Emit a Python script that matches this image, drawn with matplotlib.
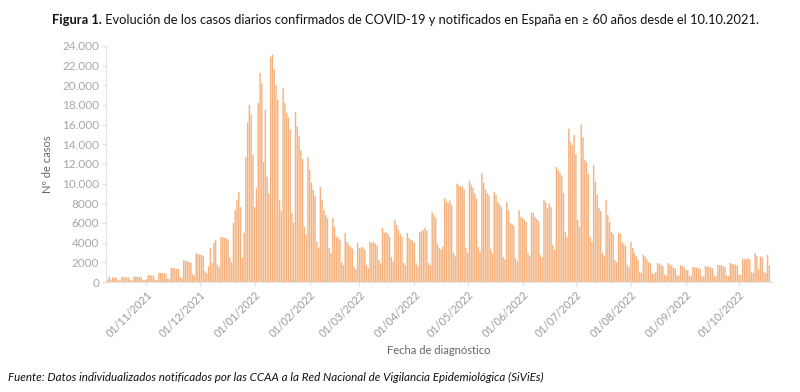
import pandas as pd
import matplotlib
matplotlib.use("Agg")
import matplotlib.pyplot as plt
import matplotlib.dates as mdates
from matplotlib.ticker import FuncFormatter

plt.rcParams['font.family'] = ['Lato', 'DejaVu Sans']

fecha_inicio = "2021-10-10"

# casos diarios en >= 60 años; primer valor = domingo 10/10, luego una fila por semana (lun..dom)
casos = [
    200,
    550, 250, 480, 450, 430, 200, 150,
    520, 500, 480, 470, 450, 200, 160,
    560, 540, 520, 500, 480, 210, 170,
    300, 700, 680, 660, 640, 260, 200,
    950, 930, 900, 880, 850, 350, 280,
    1450, 1420, 1380, 1350, 1300, 520, 420,
    2200, 2150, 2100, 2050, 1950, 780, 650,
    2900, 2850, 2800, 2750, 2650, 1100, 900,
    1600, 3450, 1900, 4000, 4270, 1800, 1500,
    4600, 4550, 4500, 4400, 4300, 2500, 2000,
    6000, 7300, 8300, 9150, 7600, 2500, 5000,
    12700, 16200, 18000, 17000, 12900, 7600, 9500,
    18200, 21250, 20200, 12200, 17500, 10700, 9000,
    22900, 23100, 21600, 20000, 18500, 8300, 7200,
    19700, 18200, 17200, 16700, 15500, 7000, 6000,
    17300, 15800, 14800, 13400, 12500, 5600, 4800,
    12700, 11400, 10100, 9350, 8800, 4070, 3500,
    9660, 8340, 7300, 6800, 6500, 3460, 2900,
    6500, 5600, 4600, 4500, 4300, 2000, 1700,
    5000, 4070, 3800, 3560, 3400, 1530, 1300,
    3970, 3460, 3500, 3560, 3300, 1730, 1400,
    4070, 4000, 4050, 3900, 3700, 2240, 1900,
    5500, 5000, 5100, 4900, 4600, 2540, 2100,
    6300, 5800, 5300, 4900, 4600, 1930, 1700,
    5000, 4480, 4270, 4200, 4000, 1900, 1600,
    5100, 5150, 5300, 5500, 5200, 1930, 1700,
    7100, 6800, 6500, 3900, 3500, 3300, 3600,
    8540, 8200, 8000, 8300, 7800, 2950, 2600,
    10000, 9800, 9700, 9750, 9400, 3460, 3000,
    10300, 9900, 9600, 9000, 8500, 3560, 3100,
    11100, 10100, 9400, 9050, 8800, 3400, 2900,
    9150, 8850, 8140, 7900, 7600, 2540, 2300,
    8140, 7300, 6000, 5900, 5700, 2400, 2100,
    7300, 6600, 6500, 6300, 6100, 2950, 2600,
    7100, 7000, 6600, 6400, 6200, 2750, 2500,
    8340, 8100, 7500, 8000, 7600, 3760, 3300,
    11700, 11400, 11100, 10800, 9050, 5100, 4600,
    15600, 14200, 13900, 14950, 13000, 6300, 5600,
    16000, 14700, 12400, 12200, 11000, 4600, 4100,
    11900, 10200, 8850, 7500, 7200, 2950, 2600,
    8340, 6800, 6100, 5100, 4900, 2240, 2000,
    5000, 4900, 4070, 3900, 3700, 1730, 1500,
    4070, 3460, 2950, 2600, 2240, 1020, 900,
    2750, 2600, 2300, 2000, 1900, 900, 800,
    1000, 1930, 1850, 1750, 1600, 750, 650,
    1930, 1800, 1700, 1420, 1400, 700, 620,
    1730, 1600, 1500, 1220, 1200, 650, 600,
    1530, 1500, 1450, 1400, 1300, 600, 550,
    1630, 1600, 1550, 1450, 1400, 620, 560,
    1730, 1700, 1700, 1600, 1500, 680, 600,
    1930, 1850, 1800, 1750, 1650, 760, 680,
    2340, 2300, 2340, 2400, 2300, 1000, 900,
    2950, 2650, 1300, 2600, 2500, 1000, 900,
    2750, 1700,
]

ticks_x = ["2021-11-01", "2021-12-01", "2022-01-01", "2022-02-01", "2022-03-01",
           "2022-04-01", "2022-05-01", "2022-06-01", "2022-07-01", "2022-08-01",
           "2022-09-01", "2022-10-01"]
ticks_y = list(range(0, 24001, 2000))

titulo_b = "Figura 1."
titulo = " Evolución de los casos diarios confirmados de COVID-19 y notificados en España en ≥ 60 años desde el 10.10.2021."
fuente = "Fuente: Datos individualizados notificados por las CCAA a la Red Nacional de Vigilancia Epidemiológica (SiViEs)"

fechas = pd.date_range(fecha_inicio, periods=len(casos), freq="D")


def fmt_miles(v, pos):
    v = int(round(v))
    if v >= 10000:
        return f"{v:,}".replace(",", ".")
    return str(v)


fig = plt.figure(figsize=(8, 3.92), dpi=100)
ax = fig.add_axes([0.1325, 0.2806, 0.8325, 0.6024])
ax.bar(fechas, casos, width=0.8, color="#F5B27E", linewidth=0, snap=False)

x0 = mdates.date2num(fechas[0])
ax.set_xlim(x0 - 0.8, x0 + 374.5)
ax.set_ylim(0, 24000)
ax.set_yticks(ticks_y)
ax.yaxis.set_major_formatter(FuncFormatter(fmt_miles))
ax.set_xticks([mdates.date2num(pd.Timestamp(t)) for t in ticks_x])
ax.xaxis.set_major_formatter(mdates.DateFormatter("%d/%m/%Y"))

for s in ["top", "right"]:
    ax.spines[s].set_visible(False)
for s in ["left", "bottom"]:
    ax.spines[s].set_color("#e3e3e3")
    ax.spines[s].set_linewidth(0.8)

ax.tick_params(axis="y", colors="#e0e0e0", labelcolor="#a8a8a8", labelsize=8.5, length=3, pad=2)
ax.tick_params(axis="x", colors="#e0e0e0", labelcolor="#9a9a9a", labelsize=7.8, length=3, pad=2)
for lab in ax.get_xticklabels():
    lab.set_rotation(45)
    lab.set_ha("right")
    lab.set_rotation_mode("anchor")

ax.set_ylabel("Nº de casos", fontsize=8, color="#666666")
ax.yaxis.set_label_coords(-0.08, 0.5)
ax.set_xlabel("Fecha de diagnóstico", fontsize=8, color="#666666")
ax.xaxis.set_label_coords(0.5, -0.265)

# título: parte en negrita y resto seguido
r = fig.canvas.get_renderer()
tb = fig.text(52 / 800, 1 - 20 / 392, titulo_b, fontsize=9.25, fontweight="bold", va="center", color="#111111")
bb = tb.get_window_extent(renderer=r)
fig.text(bb.x1 / fig.bbox.width, 1 - 20 / 392, titulo, fontsize=9.25, va="center", color="#111111")

fig.text(8 / 800, 1 - 377 / 392, fuente, fontsize=8.4, style="italic", va="center", color="#111111")

fig.savefig("out.png", dpi=100)
